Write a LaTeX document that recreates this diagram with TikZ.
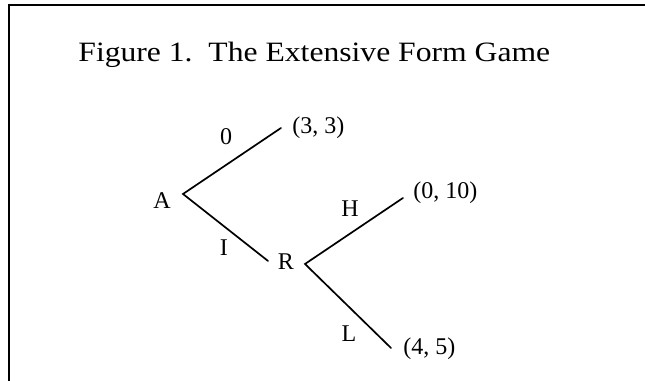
\documentclass[tikz,border=0pt]{standalone}
\usepackage{fontspec}
\setmainfont{Liberation Serif}
\newfontfamily\titlefont[FakeStretch=1.13]{Liberation Serif}
\usetikzlibrary{positioning}

\tikzset{
  branch/.style={line width=0.85pt, line cap=round},
  movelbl/.style={font=\fontsize{12}{14}\selectfont, inner sep=0pt},
  payoff/.style={font=\fontsize{12}{14}\selectfont, inner sep=0pt, anchor=west}
}

\begin{document}
\begin{tikzpicture}
  % 画布大小与参考图一致
  \useasboundingbox (0, 0) rectangle (11.335, 6.695);

  % 外框（只见上边与左边）
  \draw[line width=1pt] (0.158, 0) -- (0.158, 6.607) -- (11.4, 6.607);

  % 标题
  \node[font=\titlefont\fontsize{14}{17}\selectfont, anchor=base west, inner sep=0pt] (title)
    at (1.371, 5.606) {Figure 1.\ \ The Extensive Form Game};

  % 决策点与终点
  \coordinate (a) at (3.216, 3.286);
  \coordinate (r) at (5.360, 2.056);
  \coordinate (aup) at (4.938, 4.446);
  \coordinate (adown) at (4.710, 2.109);
  \coordinate (rup) at (7.082, 3.216);
  \coordinate (rdown) at (6.871, 0.580);

  % 参与人
  \node[movelbl] (plA) at (2.847, 3.163) {A};
  \node[movelbl] (plR) at (5.026, 2.091) {R};

  % 分支
  \draw[branch] (aup) -- (a) -- (adown);
  \draw[branch] (rup) -- (r) -- (rdown);

  % 行动标签
  \node[movelbl] (actO) at (3.972, 4.288) {0};
  \node[movelbl] (actI) at (3.936, 2.337) {I};
  \node[movelbl] (actH) at (6.151, 3.023) {H};
  \node[movelbl] (actL) at (6.133, 0.826) {L};

  % 支付
  \node[payoff] (pay33) at (5.131, 4.446) {(3, 3)};
  \node[payoff] (pay010) at (7.258, 3.304) {(0, 10)};
  \node[payoff] (pay45) at (7.082, 0.562) {(4, 5)};
\end{tikzpicture}
\end{document}
